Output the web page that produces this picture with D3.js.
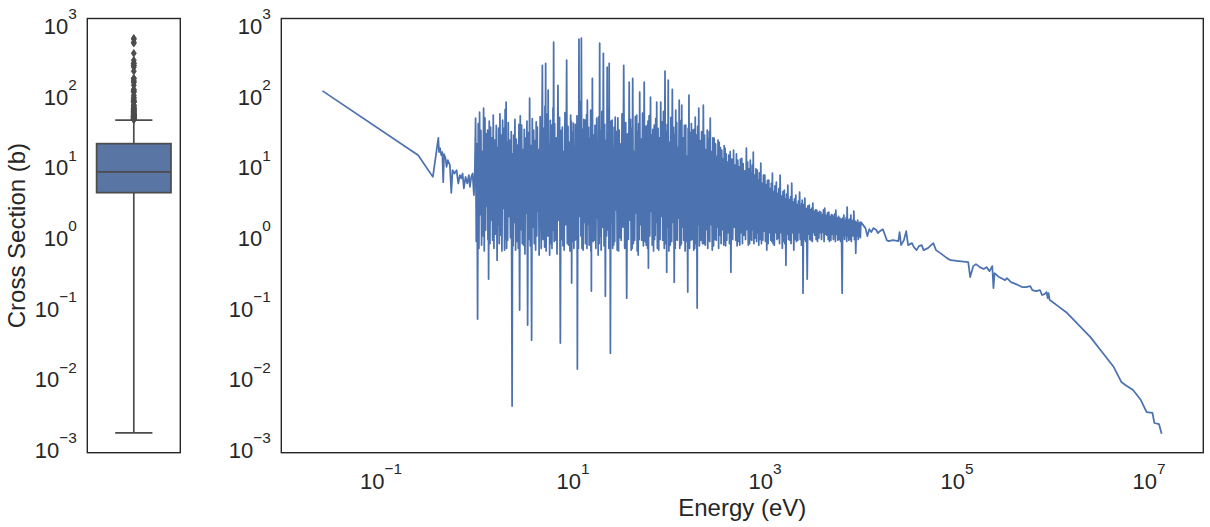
<!DOCTYPE html>
<html>
<head>
<meta charset="utf-8">
<script src="https://cdn.jsdelivr.net/npm/d3@7"></script>
<style>
  html, body { margin: 0; padding: 0; background: #ffffff; }
  svg { display: block; }
  text { font-family: "Liberation Sans", Arial, Helvetica, sans-serif; }
</style>
</head>
<body>
<svg id="chart" width="1210" height="527"></svg>
<script>
// ---------------- DATA ----------------
// Thermal / epithermal part (eV, barns)
const thermalEnergy = [0.0253, 0.247, 0.351, 0.400, 0.407, 0.417, 0.429, 0.440, 0.450, 0.459, 0.476, 0.487, 0.503, 0.528, 0.546, 0.563, 0.590, 0.620, 0.645, 0.671, 0.694, 0.716, 0.738, 0.769, 0.801, 0.832, 0.853, 0.882, 0.910, 0.939, 0.961];
const thermalXS = [100, 12.5, 6.16, 21.9, 13.8, 15.7, 12.5, 13.8, 5.18, 12.9, 11.3, 8.53, 10.6, 9.02, 3.66, 7.66, 6.88, 7.66, 4.97, 6.51, 5.85, 6.88, 4.22, 6.16, 4.97, 6.51, 4.45, 6.16, 6.88, 3.39, 8.10];

// Resolved resonances, 1 - 4 eV
const res1Energy = [
  0.978, 0.994, 1.010, 1.026, 1.042, 1.059, 1.076, 1.093, 1.111, 1.129, 1.147, 1.166, 1.185, 1.204, 1.223, 1.243, 1.263, 1.283, 1.304, 1.315, 1.325, 1.336, 1.357, 1.379, 1.401, 1.424, 1.447, 1.470, 1.494, 1.518,
  1.543, 1.574, 1.606, 1.638, 1.658, 1.677, 1.697, 1.725, 1.753, 1.781, 1.810, 1.839, 1.869, 1.899, 1.930, 1.961, 1.985, 2.009, 2.033, 2.058, 2.083, 2.108, 2.142, 2.176, 2.211, 2.255, 2.301, 2.348, 2.376, 2.405,
  2.434, 2.473, 2.513, 2.553, 2.594, 2.636, 2.679, 2.722, 2.766, 2.811, 2.856, 2.902, 2.949, 2.997, 3.045, 3.094, 3.144, 3.194, 3.246, 3.298, 3.351, 3.406, 3.461, 3.516, 3.573, 3.630, 3.689, 3.749, 3.809, 3.871];
const res1XS = [
  41.7, 0.75, 18, 0.0597, 35, 0.6, 50.7, 1.8, 28, 0.666, 14, 0.9, 57.7, 0.55, 42, 1.09, 25, 2.4, 28.2, 0.8, 12, 0.220, 38, 0.7, 31.1, 1.5, 22, 0.783, 46, 0.6,
  20.4, 0.95, 33, 0.408, 16, 1.3, 30.1, 0.7, 48, 0.922, 24, 0.55, 39.1, 2.2, 30, 0.566, 55, 0.8, 70.2, 0.6, 19, 0.783, 36, 1.7, 20.4, 0.85, 27, 0.00351, 13, 0.65,
  24.0, 1.4, 40, 0.566, 21, 0.75, 17.3, 0.6, 34, 0.0801, 45, 1.1, 33.2, 0.7, 15, 0.666, 29, 0.5, 21.7, 1.9, 38, 0.0491, 26, 0.8, 80.0, 0.65, 17, 0.0301, 41, 1.2];

// Resolved resonances, 4 - 21 eV
const res2Energy = [
  3.933, 3.996, 4.061, 4.127, 4.184, 4.241, 4.298, 4.360, 4.424, 4.487, 4.603, 4.723, 4.848, 4.938, 5.030, 5.122, 5.163, 5.204, 5.246, 5.309, 5.374, 5.439, 5.483, 5.527, 5.571, 5.638, 5.706, 5.775, 5.868, 5.963,
  6.059, 6.107, 6.156, 6.206, 6.256, 6.306, 6.357, 6.434, 6.512, 6.590, 6.740, 6.892, 7.047, 7.184, 7.323, 7.466, 7.586, 7.709, 7.833, 7.947, 8.062, 8.178, 8.343, 8.512, 8.683, 8.823, 8.965, 9.109, 9.256, 9.405,
  9.558, 9.634, 9.712, 9.791, 9.925, 10.06, 10.20, 10.33, 10.46, 10.60, 10.70, 10.81, 10.91, 11.02, 11.12, 11.23, 11.37, 11.52, 11.67, 11.78, 11.90, 12.01, 12.13, 12.24, 12.36, 12.54, 12.72, 12.90, 13.11, 13.32,
  13.54, 13.65, 13.76, 13.87, 14.00, 14.14, 14.27, 14.48, 14.69, 14.90, 15.08, 15.26, 15.45, 15.54, 15.62, 15.71, 15.84, 15.96, 16.09, 16.32, 16.56, 16.80, 17.14, 17.49, 17.84, 18.06, 18.27, 18.49, 18.71, 18.94,
  19.17, 19.40, 19.63, 19.87, 20.22, 20.58];
const res2XS = [
  28.2, 0.7, 20, 0.566, 37, 0.9, 31.1, 2.0, 15, 0.481, 44, 0.6, 234, 0.8, 30, 0.624, 62, 1.6, 250, 0.55, 27, 2.45, 48, 0.9, 104, 1.2, 18, 0.481, 39, 0.7,
  33.2, 0.6, 25, 1.09, 58, 2.2, 496, 0.75, 35, 0.783, 22, 0.5, 122, 1.5, 43, 0.0273, 28, 0.8, 31.1, 0.65, 14, 0.566, 50, 1.3, 276, 0.7, 32, 0.666, 19, 0.55,
  46.0, 2.3, 38, 0.193, 26, 0.75, 35.4, 0.6, 16, 0.783, 34, 1.1, 20.4, 0.8, 45, 0.0117, 23, 0.6, 547, 1.7, 60, 2.88, 72, 0.9, 565, 0.6, 29, 0.566, 40, 1.4,
  39.1, 0.7, 17, 0.922, 47, 0.6, 74.9, 1.3, 31, 0.666, 21, 0.8, 54.1, 0.55, 36, 0.149, 42, 1.8, 153, 0.75, 24, 0.783, 33, 0.6, 41.7, 1.6, 13, 0.481, 44, 0.7,
  480, 0.9, 28, 0.566, 52, 1.2];

// Resolved resonances, 21 - 226 eV
const res3Energy = [
  20.95, 21.29, 21.63, 21.98, 22.30, 22.62, 22.96, 23.14, 23.33, 23.51, 23.70, 23.89, 24.08, 24.31, 24.55, 24.79, 25.15, 25.51, 25.88, 26.19, 26.51, 26.83, 27.16, 27.48, 27.82, 28.27, 28.72, 29.18, 29.65, 30.13,
  30.62, 31.11, 31.62, 32.12, 32.77, 33.43, 34.12, 34.95, 35.80, 36.65, 37.39, 38.15, 38.92, 39.55, 40.19, 40.83, 41.32, 41.82, 42.33, 43.01, 43.71, 44.40, 45.11, 45.84, 46.59, 47.15, 47.72, 48.30, 48.88, 49.47,
  50.07, 50.88, 51.70, 52.53, 53.59, 54.67, 55.78, 56.68, 57.59, 58.52, 58.99, 59.46, 59.95, 60.53, 61.11, 61.70, 62.74, 63.80, 64.89, 65.78, 66.68, 67.59, 68.68, 69.79, 70.91, 71.48, 72.05, 72.63, 73.51, 74.40,
  75.29, 76.50, 77.74, 78.99, 80.26, 81.56, 82.87, 84.21, 85.56, 86.94, 88.56, 90.20, 91.88, 93.14, 94.42, 95.72, 96.88, 98.05, 99.23, 100.8, 102.5, 104.1, 105.9, 107.7, 109.5, 111.2, 112.9, 114.6, 116.0, 117.4,
  118.8, 120.2, 121.7, 123.2, 125.2, 127.2, 129.2, 130.8, 132.3, 133.9, 135.0, 136.1, 137.2, 139.4, 141.7, 144.0, 146.3, 148.7, 151.0, 153.4, 155.9, 158.5, 160.0, 161.6, 163.1, 165.5, 167.9, 170.3, 173.0, 175.8,
  178.6, 180.0, 181.5, 183.0, 185.2, 187.4, 189.7, 192.6, 195.5, 198.6, 201.2, 203.7, 206.4, 209.7, 213.1, 216.5, 221.0, 225.7];
const res3XS = [
  346, 0.65, 34, 0.126, 20, 0.9, 220, 1.8, 45, 1.09, 56, 0.6, 250, 0.8, 23, 0.0197, 38, 1.4, 39.1, 0.6, 15, 0.666, 31, 0.75, 43.1, 2.1, 27, 0.566, 42, 0.55,
  28.2, 0.85, 18, 0.783, 48, 1.2, 234, 0.6, 36, 0.118, 25, 0.8, 135, 1.5, 40, 0.566, 30, 0.6, 153, 0.7, 14, 0.783, 44, 1.9, 46.0, 0.55, 26, 0.481, 35, 0.8,
  97.3, 1.3, 21, 0.783, 49, 0.65, 135, 0.75, 32, 0.666, 17, 1.1, 33.2, 0.6, 38, 0.315, 45, 0.9, 82.6, 2.0, 24, 0.666, 29, 0.55, 33.2, 0.8, 13, 0.922, 41, 1.4,
  70.2, 0.6, 30, 0.566, 22, 0.8, 70.2, 1.7, 37, 0.783, 52, 0.6, 193, 0.7, 27, 0.276, 34, 1.2, 144, 0.55, 19, 0.666, 43, 0.75, 107, 1.4, 31, 0.199, 24, 0.6,
  54.1, 0.8, 36, 0.783, 16, 1.6, 74.9, 0.6, 28, 0.666, 39, 0.7, 63.7, 1.2, 22, 0.783, 33, 0.55, 33.2, 0.75, 12, 0.144, 30, 1.0, 88.2, 0.6, 26, 0.783, 35, 0.8,
  28.2, 1.5, 18, 0.566, 29, 0.6, 43.1, 0.7, 24, 0.0855, 32, 1.3, 57.7, 0.65, 20, 0.783, 27, 0.7];

// Resolved resonances, 230 eV - 10 keV
const res4Energy = [
  230.4, 233.9, 237.5, 241.2, 245.1, 249.0, 253.1, 256.2, 259.2, 262.4, 265.6, 268.6, 271.9, 276.3, 280.7, 285.3, 289.7, 294.1, 298.6, 303.7, 308.8, 314.0, 318.6, 323.2, 327.9, 332.4, 337.0, 341.6, 347.1, 352.7,
  358.4, 364.2, 370.0, 376.0, 379.9, 383.9, 387.9, 393.2, 398.6, 404.1, 410.6, 417.2, 424.0, 431.2, 438.5, 445.9, 455.6, 465.5, 475.7, 484.2, 492.7, 501.3, 509.4, 517.6, 526.0, 534.5, 543.1, 551.9, 560.8, 569.8,
  579.0, 588.3, 597.8, 607.5, 620.3, 633.3, 646.6, 656.5, 666.5, 676.8, 687.7, 698.8, 710.1, 718.7, 727.4, 736.1, 745.1, 754.0, 763.1, 775.4, 787.9, 800.6, 813.5, 826.6, 840.0, 850.2, 860.4, 870.8, 884.8, 899.1,
  913.6, 928.3, 943.3, 958.5, 973.9, 989.7, 1006, 1022, 1039, 1055, 1072, 1089, 1107, 1125, 1143, 1162, 1177, 1192, 1207, 1225, 1244, 1263, 1283, 1304, 1326, 1347, 1369, 1391, 1411, 1432,
  1452, 1478, 1504, 1531, 1556, 1581, 1606, 1627, 1648, 1669, 1695, 1720, 1747, 1775, 1804, 1833, 1861, 1889, 1918, 1951, 1984, 2017, 2049, 2083, 2116, 2150, 2185, 2220, 2252, 2285,
  2318, 2352, 2386, 2421, 2436, 2452, 2468, 2484, 2499, 2515, 2552, 2589, 2627, 2678, 2730, 2782, 2829, 2877, 2926, 2968, 3011, 3055, 3097, 3139, 3182, 3233, 3285, 3338, 3392, 3447,
  3503, 3559, 3617, 3675, 3734, 3794, 3856, 3918, 3981, 4046, 4107, 4170, 4235, 4307, 4379, 4454, 4526, 4599, 4672, 4747, 4824, 4902, 4981, 5061, 5143, 5209, 5276, 5344, 5404, 5465,
  5527, 5616, 5707, 5798, 5891, 5986, 6083, 6196, 6311, 6428, 6516, 6605, 6696, 6804, 6913, 7025, 7099, 7173, 7248, 7347, 7448, 7550, 7671, 7795, 7921, 8017, 8113, 8211, 8310, 8411,
  8511, 8641, 8773, 8913, 9049, 9187, 9326, 9454, 9584, 9714, 9832, 9950, 10070];
const res4XS = [
  63.7, 0.7, 24, 0.666, 15, 1.1, 28.2, 0.6, 21, 0.783, 27, 0.75, 41.7, 1.3, 14, 0.566, 22, 0.65, 21.7, 0.8, 18, 0.783, 12, 1.2, 20.4, 0.6, 19, 0.922, 16, 0.7,
  14.7, 1.1, 11, 0.666, 17, 0.75, 15.7, 0.65, 13, 0.783, 10, 1.0, 12.5, 0.7, 14, 0.276, 11, 0.8, 14.7, 1.2, 9, 0.783, 13, 0.65, 10.6, 0.75, 8.5, 0.666, 11, 1.0,
  11.3, 0.7, 9.5, 0.922, 7.5, 0.8, 15.7, 1.1, 10, 0.666, 8, 0.7, 10.6, 0.8, 7, 0.783, 9, 1.1, 13.8, 0.7, 6.5, 0.836, 8, 0.75, 7.66, 1.0, 5.5, 0.666, 7, 0.8,
  9.63, 0.7, 5, 0.783, 6.5, 1.05, 6.51, 0.75, 4.8, 0.566, 5.5, 0.7, 5.53, 1.0, 4.2, 0.783, 5, 0.75, 6.95, 0.7, 3.8, 0.666, 4.6, 1.0, 5.18, 0.8, 3.6, 0.836, 4.2, 0.7,
  6.51, 1.0, 3.3, 0.604, 3.8, 0.75, 4.00, 0.7, 3.0, 0.347, 3.5, 0.95, 4.70, 0.8, 2.9, 0.783, 3.2, 0.7, 5.02, 1.0, 2.7, 0.566, 3.0, 0.8, 3.39, 0.75, 2.5, 0.783, 2.8, 1.0,
  3.74, 0.8, 2.4, 0.666, 2.6, 0.75, 2.88, 1.0, 2.3, 0.139, 2.5, 0.8, 3.08, 0.75, 2.2, 0.220, 2.4, 0.95, 2.45, 0.8, 2.1, 0.783, 2.2, 0.75, 2.62, 1.0, 2.0, 0.922, 2.1, 0.8,
  2.08, 0.75, 1.9, 0.836, 2.0, 1.0, 1.95, 0.8, 1.8, 1.02, 2.1, 0.75, 2.22, 0.95, 1.75, 0.922, 1.9, 0.8, 1.95, 0.75, 1.7, 0.783, 1.8, 0.95, 1.77, 0.8, 1.65, 0.984, 1.85, 0.75,
  2.08, 0.95, 1.6, 0.783, 1.7, 0.8, 1.60, 0.75, 1.55, 0.139, 1.6, 0.9, 1.77, 0.8, 1.5, 0.922, 1.65, 0.75, 2.30, 0.9, 1.5, 0.783, 1.55, 0.8, 1.77, 0.75, 1.45, 0.922, 1.5, 0.9,
  2.02, 0.8, 1.45, 0.513, 1.4, 0.9, 1.50, 0.8, 1.35, 0.893, 1.4, 0.85, 1.41];

// Unresolved / fast region (eV, barns)
const fastEnergy = [11250, 11770, 12320, 12930, 13590, 14580, 15150, 15890, 17080, 18760, 19630, 21710, 24770, 25490, 26430, 28270, 29870, 31270, 34330, 35930, 38350, 40520, 43340, 45360, 50280, 57240, 61090, 65480, 72240, 79330, 86920, 105800, 132300, 138500, 149200, 159100, 174700, 191900, 204800, 220600, 235300, 242200, 248600, 276300, 320000, 334900, 368600, 415600, 485900, 528400, 585800, 614600, 671500, 739200, 775600, 823500, 866100, 889300, 907000, 933000,
  976500, 1139000, 1420000, 1876000, 2479000, 3274000, 4335000, 5214000, 5727000, 6888000, 8308000, 9100000, 9546000, 10970000, 11490000, 12830000, 13590000];
const fastXS = [1.16, 0.893, 1.12, 1.02, 1.16, 1.09, 0.984, 1.05, 1.12, 0.783, 0.758, 0.783, 0.758, 1.02, 0.666, 0.783, 1.05, 0.666, 0.711, 0.624, 0.566, 0.645, 0.666, 0.566, 0.604, 0.711, 0.566, 0.530, 0.481, 0.436, 0.408, 0.395, 0.383, 0.235, 0.336, 0.358, 0.325, 0.305, 0.325, 0.285, 0.336, 0.164, 0.267, 0.235, 0.213, 0.227, 0.199, 0.187, 0.169, 0.169, 0.175, 0.154, 0.149, 0.154, 0.131, 0.135, 0.144, 0.118, 0.139, 0.111,
  0.107, 0.0912, 0.0727, 0.0491, 0.0332, 0.0204, 0.0125, 0.00767, 0.00696, 0.00591, 0.00427, 0.00329, 0.00289, 0.00280, 0.00202, 0.00195, 0.00146];

// Box plot quartiles of the full cross-section data set [Q1, median, Q3] (barns)
const boxQuartiles = [3.68, 7.25, 18.2];

// Ticks and labels
const yTickValues = [1e-3, 1e-2, 1e-1, 1e0, 1e1, 1e2, 1e3];
const xTickValues = [1e-1, 1e1, 1e3, 1e5, 1e7];
const xAxisTitle = "Energy (eV)";
const yAxisTitle = "Cross Section (b)";

// ---------------- BUILD ----------------
const energy = thermalEnergy.concat(res1Energy, res2Energy, res3Energy, res4Energy, fastEnergy);
const xs = thermalXS.concat(res1XS, res2XS, res3XS, res4XS, fastXS);
const points = energy.map((e, i) => ({ e: e, s: xs[i] })).filter(p => p.s !== undefined);

const TEXT = "#262626";
const LINE = "#4c72b0";
const BOXFILL = "#5875a3";
const BOXLINE = "#4c4c4c";

const svg = d3.select("#chart");
svg.append("rect").attr("width", 1210).attr("height", 527).attr("fill", "#ffffff");

const plotTop = 18.5, plotBottom = 452.7;
const boxLeft = 87.3, boxRight = 180.3;
const lineLeft = 281.3, lineRight = 1203.3;

// matplotlib-style 5% margins in log space
function logDomain(values) {
  const ext = d3.extent(values).map(Math.log10);
  const m = 0.05 * (ext[1] - ext[0]);
  return [Math.pow(10, ext[0] - m), Math.pow(10, ext[1] + m)];
}

const y = d3.scaleLog().domain(logDomain(xs)).range([plotBottom, plotTop]);
const x = d3.scaleLog().domain(logDomain(energy)).range([lineLeft, lineRight]);
const xb = d3.scaleBand().domain(["all"]).range([boxLeft, boxRight]).paddingInner(0.2).paddingOuter(0.1);

const BASE_FS = 22, SUP_FS = 15.4;

function expLabels(g, baseY, supRaise) {
  g.selectAll(".tick text").each(function(d) {
    const t = d3.select(this);
    const k = Math.round(Math.log10(d));
    t.text(null).attr("dy", null).attr("y", baseY).attr("fill", TEXT);
    t.append("tspan").text("10");
    t.append("tspan").attr("dy", -supRaise).attr("font-size", SUP_FS)
      .text(k < 0 ? "\u2212" + (-k) : String(k));
  });
}

function styleAxis(g) {
  g.attr("font-size", BASE_FS).attr("font-family", "'Liberation Sans', Arial, sans-serif");
  g.select(".domain").remove();
  g.selectAll(".tick line").remove();
}

// ---------- Left panel: box plot ----------
const q1 = boxQuartiles[0], med = boxQuartiles[1], q3 = boxQuartiles[2];
const iqr = q3 - q1;
const hiFence = q3 + 1.5 * iqr, loFence = q1 - 1.5 * iqr;
const whiskHi = d3.max(xs.filter(v => v <= hiFence));
const whiskLo = d3.min(xs.filter(v => v >= loFence));
const outliers = xs.filter(v => v > hiFence || v < loFence);

const bx0 = xb("all"), bw = xb.bandwidth(), bcx = bx0 + bw / 2;
const gb = svg.append("g");

gb.append("line").attr("x1", bcx).attr("x2", bcx).attr("y1", y(q3)).attr("y2", y(whiskHi))
  .attr("stroke", BOXLINE).attr("stroke-width", 1.7);
gb.append("line").attr("x1", bcx).attr("x2", bcx).attr("y1", y(q1)).attr("y2", y(whiskLo))
  .attr("stroke", BOXLINE).attr("stroke-width", 1.7);
[whiskHi, whiskLo].forEach(v => {
  gb.append("line").attr("x1", bcx - bw / 4).attr("x2", bcx + bw / 4).attr("y1", y(v)).attr("y2", y(v))
    .attr("stroke", BOXLINE).attr("stroke-width", 1.7);
});
gb.append("rect").attr("x", bx0).attr("width", bw).attr("y", y(q3)).attr("height", y(q1) - y(q3))
  .attr("fill", BOXFILL).attr("stroke", BOXLINE).attr("stroke-width", 1.7);
gb.append("line").attr("x1", bx0).attr("x2", bx0 + bw).attr("y1", y(med)).attr("y2", y(med))
  .attr("stroke", BOXLINE).attr("stroke-width", 1.7);
const diamond = "M0,-3.8L2.5,0L0,3.8L-2.5,0Z";
gb.selectAll("path.flier").data(outliers).join("path").attr("class", "flier")
  .attr("d", diamond)
  .attr("transform", d => `translate(${bcx},${y(d)})`)
  .attr("fill", BOXLINE).attr("stroke", BOXLINE).attr("stroke-width", 0.8);

const yAxisBox = svg.append("g").attr("transform", `translate(${boxLeft},0)`)
  .call(d3.axisLeft(y).tickValues(yTickValues).tickSize(0).tickPadding(10.6));
styleAxis(yAxisBox);
expLabels(yAxisBox, 12.85, 14.7);

svg.append("rect").attr("x", boxLeft).attr("y", plotTop).attr("width", boxRight - boxLeft)
  .attr("height", plotBottom - plotTop).attr("fill", "none").attr("stroke", TEXT).attr("stroke-width", 1.4);

svg.append("text").attr("transform", `translate(25,${(plotTop + plotBottom) / 2}) rotate(-90)`)
  .attr("text-anchor", "middle").attr("font-size", 24).attr("fill", TEXT).text(yAxisTitle);

// ---------- Right panel: line ----------
const line = d3.line().x(d => x(d.e)).y(d => y(d.s));
svg.append("path").datum(points).attr("d", line)
  .attr("fill", "none").attr("stroke", LINE).attr("stroke-width", 1.75)
  .attr("stroke-linejoin", "round").attr("stroke-linecap", "square");

const yAxisLine = svg.append("g").attr("transform", `translate(${lineLeft},0)`)
  .call(d3.axisLeft(y).tickValues(yTickValues).tickSize(0).tickPadding(10.6));
styleAxis(yAxisLine);
expLabels(yAxisLine, 12.85, 14.7);

const xAxis = svg.append("g").attr("transform", `translate(0,${plotBottom})`)
  .call(d3.axisBottom(x).tickValues(xTickValues).tickSize(0));
styleAxis(xAxis);
expLabels(xAxis, 36.6, 15.3);

svg.append("rect").attr("x", lineLeft).attr("y", plotTop).attr("width", lineRight - lineLeft)
  .attr("height", plotBottom - plotTop).attr("fill", "none").attr("stroke", TEXT).attr("stroke-width", 1.4);

svg.append("text").attr("x", (lineLeft + lineRight) / 2).attr("y", 516)
  .attr("text-anchor", "middle").attr("font-size", 24).attr("fill", TEXT).text(xAxisTitle);
</script>
</body>
</html>
